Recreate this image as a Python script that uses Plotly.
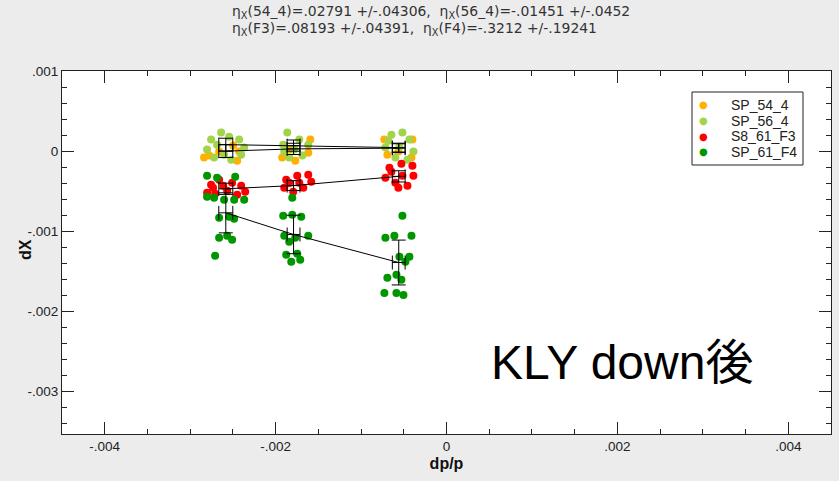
import plotly.graph_objects as go

# ---------------- data (values in units of 1e-3) ----------------
series_names = ["SP_54_4", "SP_56_4", "S8_61_F3", "SP_61_F4"]
series_colors = ["#ffb000", "#a2d449", "#ff0000", "#009600"]

# individual measurements
sp54_dp = [-2.778, -2.427, -2.450, -2.661, -2.837, -2.497,
           -1.594, -1.618, -1.923, -1.770, -1.829,
           -0.727, -0.399, -0.692, -0.410, -0.563]
sp54_dx = [-0.056, -0.006, -0.119, -0.006, -0.081, 0.069,
           0.144, -0.019, -0.081, -0.119, 0.019,
           0.144, 0.144, -0.044, -0.081, -0.006]

sp56_dp = [-2.638, -2.755, -2.544, -2.427, -2.802, -2.368, -2.720, -2.520, -2.603, -2.685, -2.403,
           -1.864, -1.911, -1.723, -1.618, -1.841, -1.688, -1.782, -1.899,
           -0.645, -0.516, -0.434, -0.715, -0.387, -0.598, -0.457, -0.551, -0.680]
sp56_dx = [0.231, 0.144, 0.181, 0.144, 0.019, 0.044, -0.081, -0.106, -0.044, 0.081, -0.044,
           0.231, 0.081, 0.144, 0.081, -0.081, -0.056, 0.019, -0.006,
           0.206, 0.231, 0.144, 0.044, -0.006, -0.081, -0.106, 0.056, 0.131]

f3_dp = [-2.755, -2.661, -2.509, -2.403, -2.356, -2.802, -2.708, -2.567, -2.450, -2.614, -2.732,
         -1.876, -1.747, -1.618, -1.583, -1.899, -1.794, -1.676, -1.723, -1.841,
         -0.668, -0.528, -0.399, -0.715, -0.598, -0.457, -0.387, -0.516, -0.563, -0.645]
f3_dx = [-0.419, -0.356, -0.394, -0.431, -0.506, -0.519, -0.531, -0.494, -0.544, -0.431, -0.456,
         -0.356, -0.306, -0.294, -0.381, -0.456, -0.506, -0.456, -0.394, -0.394,
         -0.206, -0.156, -0.181, -0.331, -0.394, -0.431, -0.306, -0.306, -0.456, -0.256]

f4_dp = [-2.802, -2.685, -2.473, -2.802, -2.720, -2.603, -2.485, -2.368, -2.661, -2.544, -2.485,
         -2.661, -2.567, -2.509, -2.708,
         -1.805, -1.911, -1.805, -1.700, -1.899, -1.770, -1.618, -1.841, -1.876, -1.747, -1.817, -1.712,
         -0.516, -0.715, -0.610, -0.410, -0.551, -0.434, -0.481, -0.692, -0.586, -0.528, -0.727,
         -0.586, -0.504]
f4_dx = [-0.306, -0.331, -0.319, -0.569, -0.581, -0.606, -0.606, -0.606, -0.831, -0.819, -0.844,
         -1.081, -1.056, -1.106, -1.306,
         -0.581, -0.806, -0.794, -0.819, -1.056, -1.081, -1.056, -1.131, -1.294, -1.281, -1.381, -1.356,
         -0.806, -1.081, -1.056, -1.056, -1.319, -1.319, -1.381, -1.581, -1.544, -1.606, -1.769,
         -1.769, -1.794]

# averaged points with errors
mean_dp = [-2.583, -1.790, -0.559]
mean_dp_err = [0.082, 0.075, 0.075]
sp54_mean = [0.000, 0.028, 0.037]
sp54_err = [0.080, 0.070, 0.055]
sp56_mean = [0.081, 0.069, 0.044]
sp56_err = [0.080, 0.070, 0.055]
f3_mean = [-0.470, -0.430, -0.315]
f3_err = [0.070, 0.062, 0.070]
f4_mean = [-0.770, -1.040, -1.390]
f4_err = [0.250, 0.240, 0.280]

x_tickvals = [-4, -2, 0, 2, 4]
x_ticktext = ["-.004", "-.002", "0", ".002", ".004"]
y_tickvals = [1, 0, -1, -2, -3]
y_ticktext = [".001", "0", "-.001", "-.002", "-.003"]

title_lines = ["η<sub>X</sub>(54_4)=.02791 +/-.04306,  η<sub>X</sub>(56_4)=-.01451 +/-.0452",
               "η<sub>X</sub>(F3)=.08193 +/-.04391,  η<sub>X</sub>(F4)=-.3212 +/-.19241"]
big_label = "KLY down後"

S = 1e-3
def sc(v):
    return [a * S for a in v]

# plot-area geometry (px) for paper-coordinate placement of decorations
L, R, T, B = 62, 831, 71, 434
W, H = R - L, B - T
def px(x):
    return (x - L) / W
def py(y):
    return (B - y) / H

fig = go.Figure()

points = [(sp54_dp, sp54_dx), (sp56_dp, sp56_dx), (f3_dp, f3_dx), (f4_dp, f4_dx)]
for name, col, (xs, ys) in zip(series_names, series_colors, points):
    fig.add_trace(go.Scatter(
        x=sc(xs), y=sc(ys), mode="markers", name=name, showlegend=False,
        marker=dict(color=col, size=8, line=dict(width=0)),
    ))

means = [(sp54_mean, sp54_err), (sp56_mean, sp56_err), (f3_mean, f3_err), (f4_mean, f4_err)]
for (m, e) in means:
    fig.add_trace(go.Scatter(
        x=sc(mean_dp), y=sc(m), mode="lines", showlegend=False,
        line=dict(color="black", width=1),
        error_x=dict(type="data", array=sc(mean_dp_err), color="black", thickness=1, width=7),
        error_y=dict(type="data", array=sc(e), color="black", thickness=1, width=7),
        hoverinfo="skip",
    ))

axis_common = dict(
    showgrid=False, zeroline=False, showline=True, linecolor="#222", linewidth=1,
    mirror="allticks", ticks="inside", ticklen=12, tickcolor="#222", tickwidth=1,
    tickfont=dict(family="Liberation Sans, Arial", size=13.5, color="#222"),
)

annotations = []
for i, line in enumerate(title_lines):
    annotations.append(dict(
        text=line, xref="paper", yref="paper", x=px(230), y=py(12 + 17 * i),
        xanchor="left", yanchor="middle", align="left", showarrow=False,
        font=dict(family="DejaVu Sans", size=13.9, color="#333")))
annotations.append(dict(
    text="<b>dX</b>", xref="paper", yref="paper", x=px(25), y=py(250),
    xanchor="center", yanchor="middle", textangle=-90, showarrow=False,
    font=dict(family="Liberation Sans, Arial", size=16, color="#111")))
annotations.append(dict(
    text=big_label, xref="paper", yref="paper", x=px(622), y=py(362),
    xanchor="center", yanchor="middle", showarrow=False,
    font=dict(family="Liberation Sans, Noto Sans CJK JP", size=48, color="black")))

# legend box (drawn manually to match the compact row spacing)
leg_rows = [105, 120.5, 136, 151.5]
for name, col, ry in zip(series_names, series_colors, leg_rows):
    annotations.append(dict(
        text="●", xref="paper", yref="paper", x=px(703), y=py(ry),
        xanchor="center", yanchor="middle", showarrow=False,
        font=dict(family="DejaVu Sans", size=10, color=col)))
    annotations.append(dict(
        text=name, xref="paper", yref="paper", x=px(729), y=py(ry),
        xanchor="left", yanchor="middle", showarrow=False,
        font=dict(family="Liberation Sans, Arial", size=14, color="#222")))

shapes = [dict(type="rect", xref="paper", yref="paper",
               x0=px(692), x1=px(803), y0=py(165), y1=py(92),
               line=dict(color="#222", width=1), fillcolor="white", layer="above")]

fig.update_layout(
    width=839, height=481,
    paper_bgcolor="#ececec", plot_bgcolor="white",
    margin=dict(l=L, r=839 - R, t=T, b=481 - B),
    font=dict(family="Liberation Sans, Arial", color="#222"),
    xaxis=dict(range=[-0.0045, 0.0045], tickvals=sc(x_tickvals), ticktext=x_ticktext,
               minor=dict(tick0=0, dtick=0.0005, ticks="inside", ticklen=5, tickcolor="#222"),
               title=dict(text="<b>dp/p</b>", font=dict(size=16, color="#111"), standoff=4),
               **axis_common),
    yaxis=dict(range=[-0.00353, 0.001], tickvals=sc(y_tickvals), ticktext=y_ticktext,
               minor=dict(tick0=0, dtick=0.0002, ticks="inside", ticklen=5, tickcolor="#222"),
               **axis_common),
    annotations=annotations,
    shapes=shapes,
    showlegend=False,
)

fig.write_html("out.html")
